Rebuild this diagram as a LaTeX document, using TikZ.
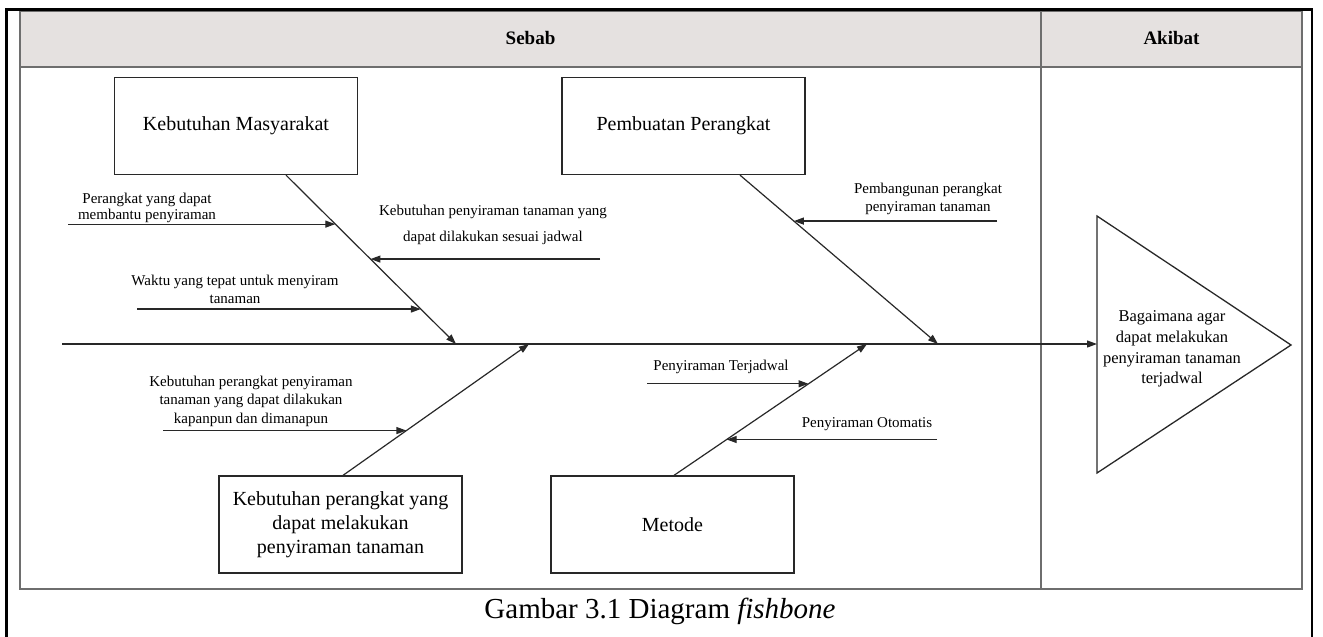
\documentclass[tikz,border=0pt]{standalone}
\usepackage{fontspec}
\setmainfont{Liberation Serif}
\usetikzlibrary{arrows.meta,calc}
\definecolor{hdr}{RGB}{229,225,224}
\definecolor{ln}{RGB}{40,40,40}
\definecolor{tb}{RGB}{110,110,110}
\begin{document}
\begin{tikzpicture}[x=1pt,y=-1pt,
  box/.style={draw=ln, line width=1.3pt, minimum width=243pt, minimum height=97pt, inner sep=0pt, align=center, font=\fontsize{20}{24}\selectfont},
  lbl/.style={align=center, inner sep=0pt, font=\fontsize{15}{18}\selectfont},
  hdrtext/.style={inner sep=0pt, font=\fontsize{19}{22}\selectfont\bfseries},
  bone/.style={draw=ln, line width=1.2pt, -{Triangle[length=10pt,width=7pt]}},
  arr/.style={draw=ln, line width=1.2pt, -{Triangle[length=10pt,width=7pt]}},
]
\useasboundingbox (0,0) rectangle (1323,637);
\fill[white] (0,0) rectangle (1323,637);

% table
\draw[tb, line width=1.3pt, fill=hdr] (20,11) rectangle (1302,67);
\draw[tb, line width=1.3pt] (20,67) rectangle (1302,589);
\draw[tb, line width=1.3pt] (1041,11) -- (1041,589);
\node[hdrtext] (sebab) at (530.5,38) {Sebab};
\node[hdrtext] (akibat) at (1171.5,38) {Akibat};

% outer frame
\draw[black, line width=2.6pt] (6.5,9.5) rectangle (1312,680);

% boxes
\node[box] (km) at (236,126) {Kebutuhan Masyarakat};
\node[box] (pp) at (683.5,126) {Pembuatan Perangkat};
\node[box] (kp) at (340.5,524.5) {Kebutuhan perangkat yang\\dapat melakukan\\penyiraman tanaman};
\node[box] (me) at (672.5,524.5) {Metode};

% effect triangle
\draw[ln, line width=1.3pt] (1097,216) -- (1291,345) -- (1097,473) -- cycle;
\coordinate (tri) at (1097,344);
\node[align=center, inner sep=0pt, font=\fontsize{16.5}{20.7}\selectfont] (eff) at (1172,349)
  {Bagaimana agar\\dapat melakukan\\penyiraman tanaman\\terjadwal};

% spine
\coordinate (sp) at (62,344);
\draw[arr] (sp) -- (tri);

% bones
\coordinate (b1s) at ($(km.south)+(50,0)$);
\coordinate (b1e) at (456,344);
\coordinate (b2s) at ($(pp.south)+(56.5,0)$);
\coordinate (b2e) at (938,344);
\coordinate (b3s) at ($(kp.north)+(2.5,0)$);
\coordinate (b3e) at (529,344);
\coordinate (b4s) at ($(me.north)+(1.5,0)$);
\coordinate (b4e) at (867,344);
\draw[bone] (b1s) -- (b1e);
\draw[bone] (b2s) -- (b2e);
\draw[bone] (b3s) -- (b3e);
\draw[bone] (b4s) -- (b4e);

% tips on bones
\coordinate (t1) at ($(b1s)!0.290!(b1e)$);
\coordinate (t2) at ($(b1s)!0.497!(b1e)$);
\coordinate (t3) at ($(b1s)!0.793!(b1e)$);
\coordinate (t4) at ($(b2s)!0.272!(b2e)$);
\coordinate (t5) at ($(b3s)!0.341!(b3e)$);
\coordinate (t6) at ($(b4s)!0.697!(b4e)$);
\coordinate (t7) at ($(b4s)!0.273!(b4e)$);

% sub-cause arrows
\coordinate (a1) at (68,224);
\coordinate (a2) at (600,259);
\coordinate (a3) at (137,309);
\coordinate (a4) at (997,221);
\coordinate (a5) at (163,431);
\coordinate (a6) at (647,384);
\coordinate (a7) at (937,440);
\draw[arr] (a1 |- t1) -- (t1);
\draw[arr] (a2 |- t2) -- (t2);
\draw[arr] (a3 |- t3) -- (t3);
\draw[arr] (a4 |- t4) -- (t4);
\draw[arr] (a5 |- t5) -- (t5);
\draw[arr] (a6 |- t6) -- (t6);
\draw[arr] (a7 |- t7) -- (t7);

% labels
\node[lbl, font=\fontsize{15}{16}\selectfont] (l1) at (147,208) {Perangkat yang dapat\\membantu penyiraman};
\node[lbl, font=\fontsize{15}{26}\selectfont] (l2) at (493,225) {Kebutuhan penyiraman tanaman yang\\dapat dilakukan sesuai jadwal};
\node[lbl] (l3) at (235,289) {Waktu yang tepat untuk menyiram\\tanaman};
\node[lbl] (l4) at (928,199) {Pembangunan perangkat\\penyiraman tanaman};
\node[lbl, font=\fontsize{15}{18.5}\selectfont] (l5) at (251,401) {Kebutuhan perangkat penyiraman\\tanaman yang dapat dilakukan\\kapanpun dan dimanapun};
\node[lbl] (l6) at (721,367) {Penyiraman Terjadwal};
\node[lbl] (l7) at (867,424) {Penyiraman Otomatis};

% caption
\node[inner sep=0pt, anchor=base, font=\fontsize{29}{34}\selectfont] (cap) at (660,618) {Gambar 3.1 Diagram \textit{fishbone}};
\end{tikzpicture}
\end{document}
